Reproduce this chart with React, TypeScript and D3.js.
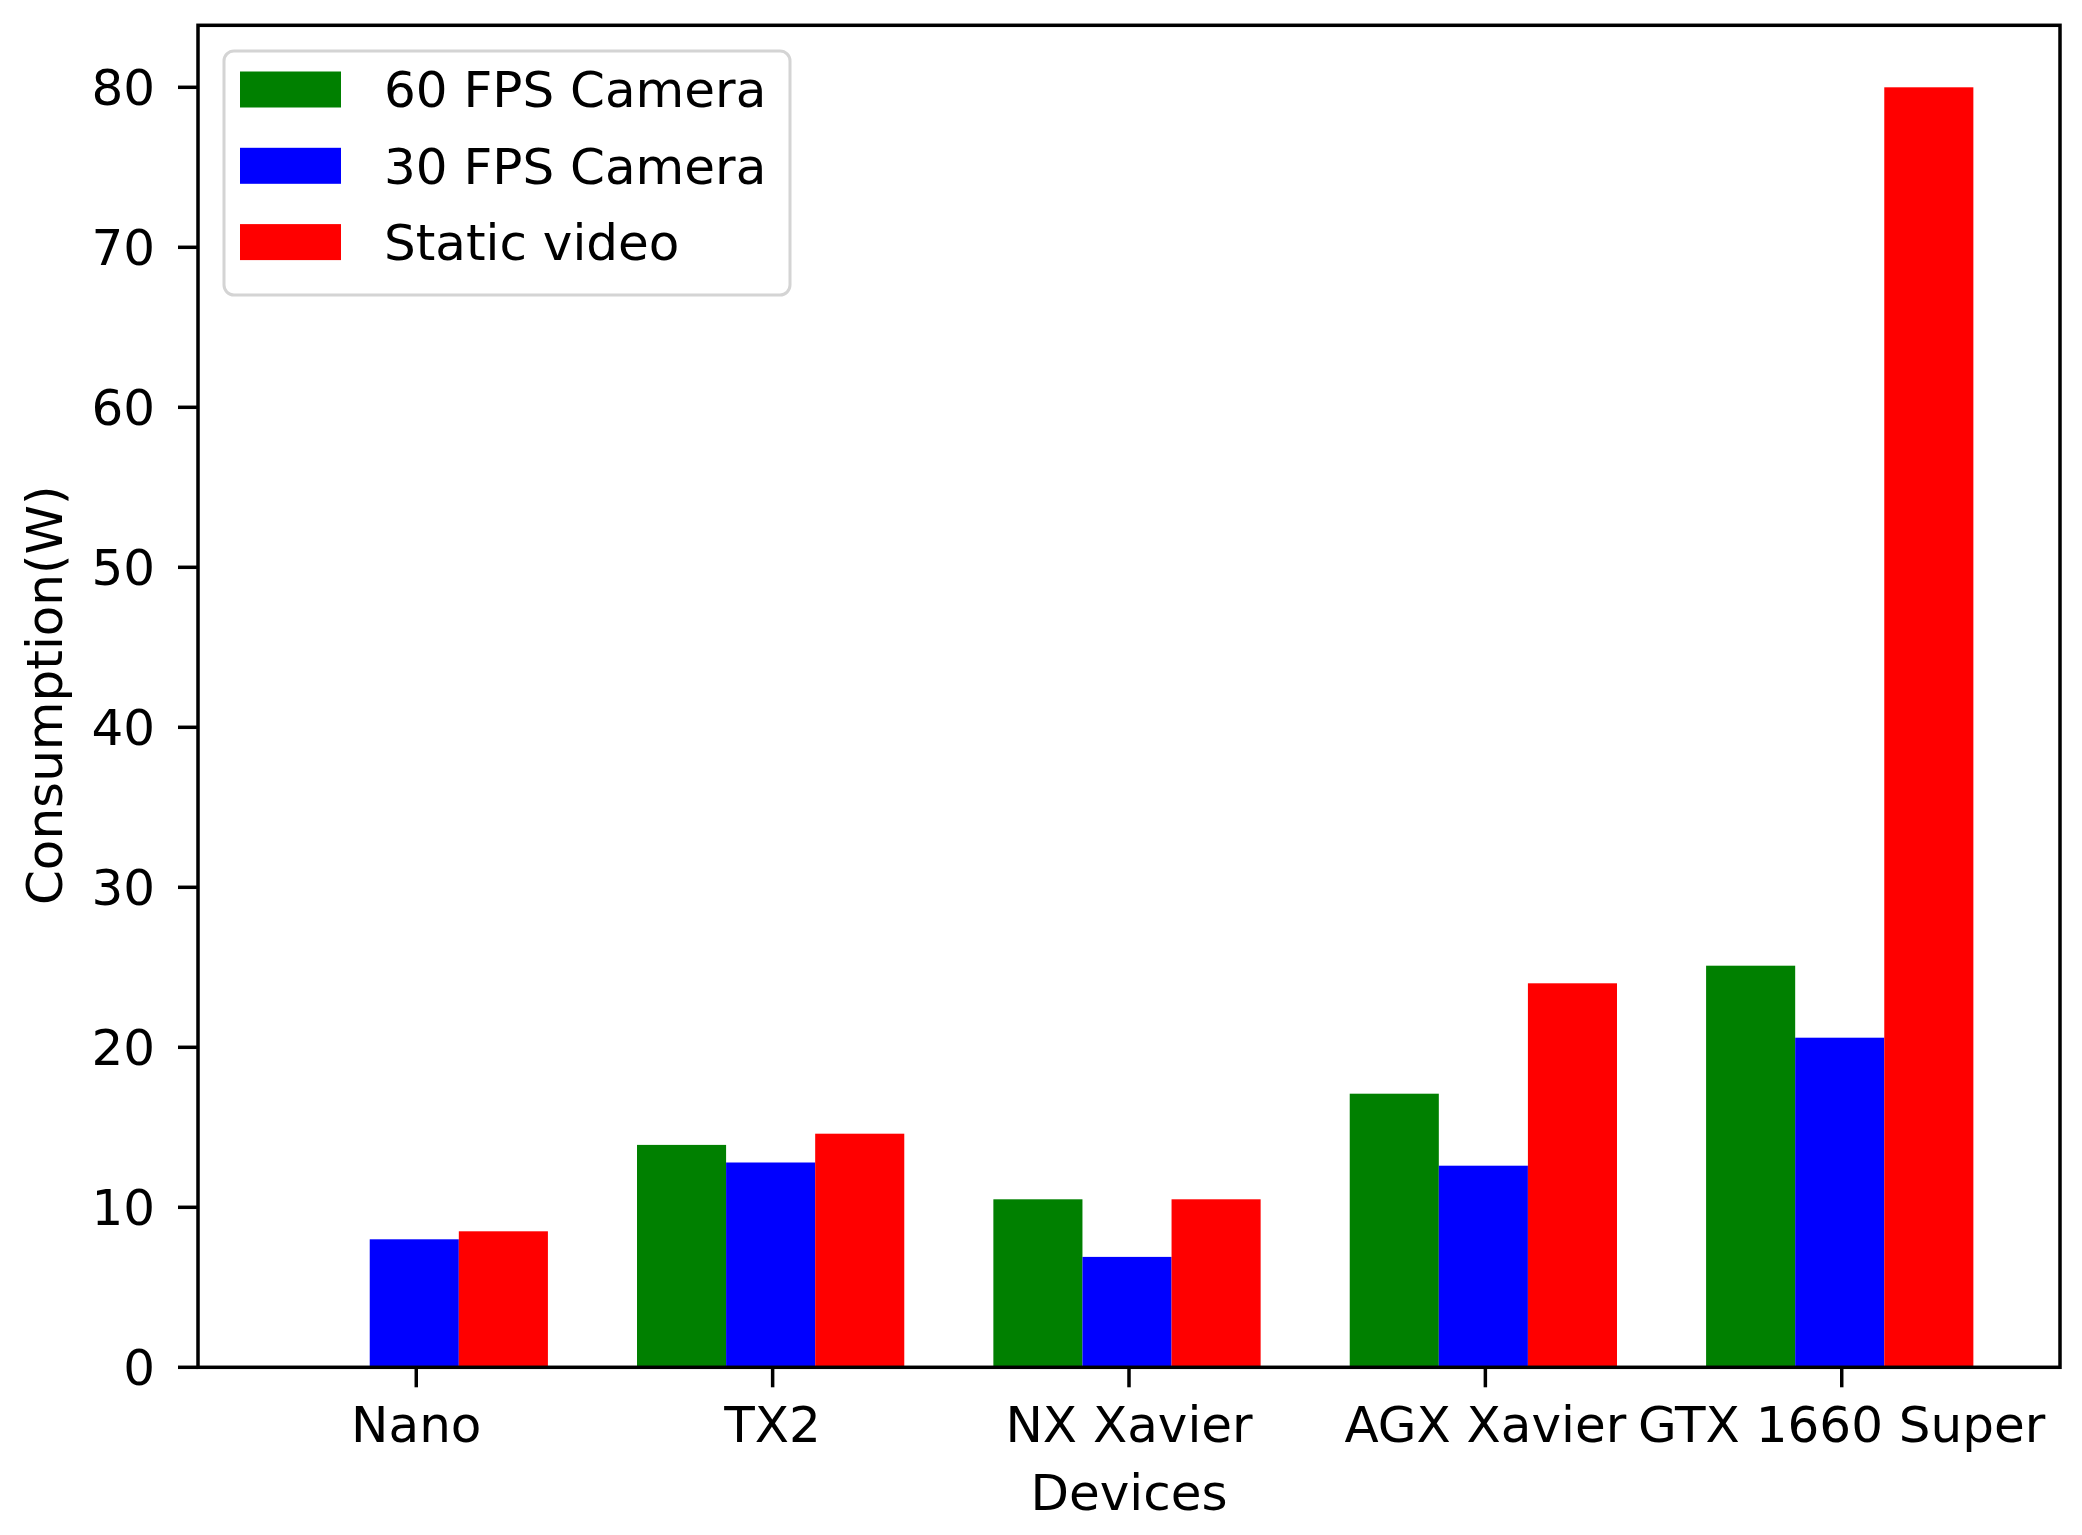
import React from "react";
import * as d3 from "d3";

const categories = ["Nano", "TX2", "NX Xavier", "AGX Xavier", "GTX 1660 Super"];
const fps60 = [0, 13.9, 10.5, 17.1, 25.1];
const fps30 = [8.0, 12.8, 6.9, 12.6, 20.6];
const staticVideo = [8.5, 14.6, 10.5, 24.0, 80.0];
const seriesNames = ["60 FPS Camera", "30 FPS Camera", "Static video"];
const seriesColors = ["#008000", "#0000ff", "#ff0000"];
const yTicks = [0, 10, 20, 30, 40, 50, 60, 70, 80];

const W = 2082;
const H = 1535;
const left = 198;
const right = 2060;
const top = 23.3;
const bottom = 1367.3;
const barW = 0.25;
const FONT = "DejaVu Sans";
const FS = 50;

export default function App() {
  const x = d3.scaleLinear().domain([-0.6125, 4.6125]).range([left, right]);
  const y = d3.scaleLinear().domain([0, 84]).range([bottom, top]);
  const series = [fps60, fps30, staticVideo];
  const offsets = [-barW, 0, barW];

  return (
    <svg
      width={W}
      height={H}
      style={{ position: "absolute", left: 0, top: 0, background: "#fff" }}
      fontFamily={FONT}
    >
      <rect x={0} y={0} width={W} height={H} fill="#fff" />
      {series.map((vals, si) =>
        vals.map((v, i) => {
          const x0 = x(i + offsets[si] - barW / 2) - 2;
          const x1 = x(i + offsets[si] + barW / 2) - 2;
          return (
            <rect
              key={`${si}-${i}`}
              x={x0}
              y={y(v)}
              width={x1 - x0}
              height={y(0) - y(v)}
              fill={seriesColors[si]}
            />
          );
        })
      )}
      {yTicks.map((t) => (
        <g key={t}>
          <line x1={left - 20} x2={left} y1={y(t)} y2={y(t)} stroke="#000" strokeWidth={3.5} />
          <text x={155} y={y(t) + 18} textAnchor="end" fontSize={FS} fill="#000">
            {t}
          </text>
        </g>
      ))}
      {categories.map((c, i) => (
        <g key={c}>
          <line x1={x(i)} x2={x(i)} y1={bottom} y2={bottom + 20} stroke="#000" strokeWidth={3.5} />
          <text x={x(i)} y={1442} textAnchor="middle" fontSize={FS} fill="#000">
            {c}
          </text>
        </g>
      ))}
      <rect
        x={left}
        y={top + 2}
        width={right - left}
        height={bottom - top - 2}
        fill="none"
        stroke="#000"
        strokeWidth={3.5}
      />
      <text x={(left + right) / 2} y={1510} textAnchor="middle" fontSize={FS} fill="#000">
        Devices
      </text>
      <text
        transform={`translate(62, ${(top + bottom) / 2}) rotate(-90)`}
        textAnchor="middle"
        fontSize={FS}
        fill="#000"
      >
        Consumption(W)
      </text>
      <rect
        x={224}
        y={51}
        width={566}
        height={244}
        rx={10}
        ry={10}
        fill="#fff"
        fillOpacity={0.8}
        stroke="#d4d4d4"
        strokeWidth={3}
      />
      {seriesNames.map((n, i) => (
        <g key={n}>
          <rect x={240} y={71.5 + i * 76.3} width={101} height={36} fill={seriesColors[i]} />
          <text x={384} y={107.3 + i * 76.3} fontSize={FS} fill="#000">
            {n}
          </text>
        </g>
      ))}
    </svg>
  );
}
